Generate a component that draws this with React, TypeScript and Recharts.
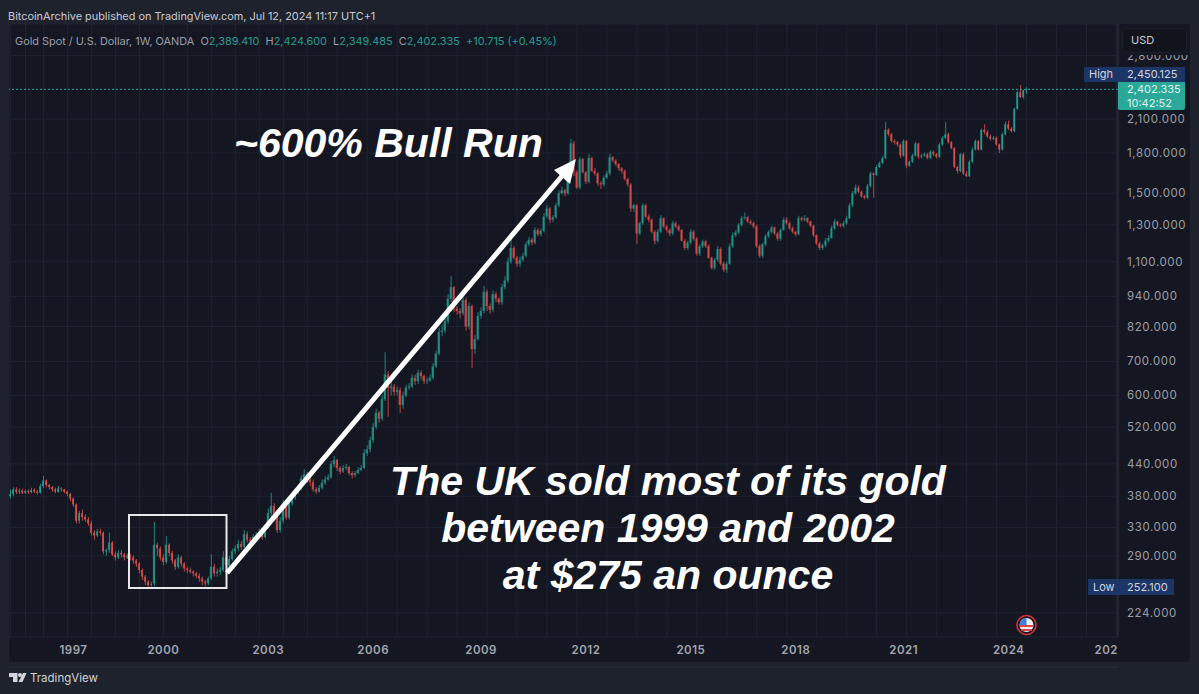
import { Bar, CartesianGrid, Cell, ComposedChart, ReferenceLine, XAxis, YAxis } from 'recharts';

// OHLC, thinned to about one candle per 3px
const opens = [
  380,384,392,388,390,386,389,387,391,388,
  386,398,408,400,396,392,388,394,392,388,
  384,376,366,340,352,346,342,336,322,318,
  324,322,296,298,308,292,288,294,292,288,
  290,288,284,280,272,264,258,254,256,305,
  300,288,282,305,294,284,276,288,280,274,
  272,270,268,265,262,258,256,262,276,268,
  270,272,288,278,286,296,300,306,302,320,
  312,310,316,318,322,316,330,352,364,350,
  326,340,368,345,368,378,388,395,412,420,
  410,405,392,388,395,404,410,414,440,448,
  432,425,432,434,422,418,422,428,432,462,
  470,490,520,555,540,590,660,620,625,610,
  615,575,600,622,625,650,640,665,655,640,
  642,650,685,725,800,805,840,930,980,890,
  880,870,925,820,900,740,775,860,880,960,
  900,885,950,930,915,980,1010,1100,1170,1120,
  1090,1110,1130,1190,1215,1200,1270,1245,1265,1350,
  1400,1330,1345,1420,1500,1520,1500,1620,1880,1650,
  1540,1750,1650,1580,1760,1660,1640,1570,1560,1610,
  1640,1765,1740,1710,1680,1660,1600,1560,1400,1420,
  1250,1310,1420,1350,1330,1260,1210,1260,1340,1290,
  1270,1250,1310,1290,1270,1210,1170,1200,1260,1220,
  1140,1180,1205,1180,1120,1070,1110,1165,1090,1060,
  1090,1180,1240,1255,1300,1340,1345,1320,1310,1290,
  1180,1130,1190,1235,1260,1285,1250,1220,1270,1330,
  1310,1280,1260,1245,1340,1330,1340,1320,1295,1240,
  1195,1170,1185,1210,1225,1280,1320,1300,1295,1310,
  1340,1420,1500,1540,1510,1480,1470,1550,1640,1630,
  1690,1720,1760,2000,1960,1900,1890,1870,1780,1900,
  1700,1730,1780,1880,1770,1780,1790,1760,1810,1790,
  1770,1870,1930,1960,1890,1840,1690,1660,1790,1640,
  1620,1730,1830,1900,1830,2000,1980,1940,1920,1930,
  1870,1830,1960,2050,2010,1990,2200,2370,2320,2389.41,
];
const highs = [
  392,396,396,394,393,392,392,395,394,391,
  402,417,410,402,398,395,398,396,393,390,
  386,378,368,356,358,350,346,340,326,328,
  328,324,300,322,310,296,298,298,294,293,
  293,291,286,282,274,266,260,258,338,308,
  303,292,317,307,297,286,292,290,282,276,
  275,272,270,268,264,260,264,292,280,274,
  276,296,290,290,300,304,312,310,326,324,
  316,320,323,328,324,334,360,386,368,354,
  346,374,372,374,384,394,400,418,430,424,
  416,410,396,400,410,416,420,446,456,450,
  436,438,440,436,426,426,434,438,470,478,
  498,530,565,560,600,730,670,640,632,625,
  622,610,630,635,660,660,675,672,660,650,
  660,695,735,815,825,860,950,1030,985,900,
  890,940,935,915,905,790,875,895,985,970,
  910,965,960,935,995,1030,1120,1226,1180,1130,
  1125,1145,1205,1230,1225,1285,1280,1280,1370,1420,
  1410,1360,1435,1520,1545,1530,1640,1920,1900,1665,
  1770,1760,1660,1790,1770,1680,1650,1585,1625,1660,
  1795,1775,1750,1720,1690,1670,1610,1570,1430,1430,
  1320,1435,1430,1365,1340,1270,1275,1360,1345,1300,
  1280,1325,1320,1300,1275,1220,1210,1275,1270,1230,
  1190,1215,1215,1190,1125,1120,1180,1175,1100,1100,
  1195,1255,1270,1310,1355,1375,1355,1330,1320,1300,
  1190,1200,1245,1270,1295,1290,1260,1280,1345,1345,
  1320,1290,1265,1355,1350,1360,1345,1325,1300,1245,
  1205,1195,1225,1240,1295,1335,1325,1310,1325,1355,
  1435,1515,1560,1555,1520,1490,1565,1655,1650,1705,
  1735,1775,2075,2015,1970,1915,1900,1880,1915,1910,
  1740,1795,1895,1885,1795,1805,1800,1825,1820,1800,
  1885,1945,2070,1975,1900,1850,1700,1800,1805,1660,
  1745,1845,1915,1910,2010,2050,1995,1960,1945,1940,
  1880,1975,2075,2085,2025,2210,2390,2450.125,2400,2424.6,
];
const lows = [
  376,380,384,384,384,384,384,385,385,383,
  384,394,396,392,388,385,386,388,385,380,
  372,362,336,336,340,338,332,318,312,316,
  318,292,290,294,290,284,286,288,284,286,
  284,280,276,268,260,254,252.1,252.5,252.6,290,
  284,278,280,290,280,272,274,276,270,268,
  268,264,262,258,254,252.6,254,260,264,264,
  266,270,274,276,284,292,296,298,300,308,
  306,308,312,314,312,314,328,346,346,322,
  322,336,342,342,364,374,384,390,406,404,
  398,388,384,386,392,400,408,412,434,426,
  420,422,428,418,412,414,420,426,430,456,
  464,484,514,530,535,585,545,600,600,600,
  555,565,595,615,620,630,632,645,632,632,
  638,645,680,720,785,795,830,915,875,865,
  850,862,805,810,680,725,770,850,870,880,
  870,875,915,905,905,970,1000,1090,1110,1075,
  1075,1100,1120,1180,1185,1190,1235,1235,1255,1340,
  1310,1315,1335,1410,1490,1480,1490,1610,1620,1530,
  1525,1640,1565,1570,1650,1625,1550,1530,1545,1600,
  1625,1725,1695,1660,1640,1590,1545,1380,1380,1190,
  1240,1300,1340,1315,1250,1190,1200,1250,1280,1255,
  1235,1240,1280,1260,1205,1160,1160,1190,1210,1130,
  1130,1170,1170,1115,1060,1060,1100,1080,1050,1045,
  1085,1170,1230,1245,1290,1330,1310,1300,1280,1170,
  1120,1120,1180,1225,1250,1240,1210,1210,1265,1300,
  1270,1250,1235,1240,1320,1320,1310,1285,1230,1185,
  1160,1160,1175,1200,1220,1270,1290,1285,1285,1300,
  1335,1410,1490,1500,1470,1460,1460,1540,1470,1620,
  1680,1710,1750,1940,1885,1870,1850,1760,1770,1680,
  1690,1720,1770,1750,1755,1770,1750,1750,1775,1755,
  1760,1860,1920,1880,1830,1680,1640,1650,1630,1615,
  1615,1720,1820,1820,1820,1960,1930,1905,1910,1860,
  1800,1820,1950,1995,1975,1980,2190,2310,2300,2349.485,
];
const closes = [
  384,392,388,390,386,389,387,391,388,386,
  398,408,400,396,392,388,394,392,388,384,
  376,366,340,352,346,342,336,322,318,324,
  322,296,298,308,292,288,294,292,288,290,
  288,284,280,272,264,258,254,255,305,300,
  288,282,305,294,284,276,288,280,274,272,
  270,268,265,262,258,256,262,276,268,270,
  272,288,278,286,296,300,306,302,320,312,
  310,316,318,322,316,330,352,364,350,326,
  340,368,345,368,378,388,395,412,420,410,
  405,392,388,395,404,410,414,440,448,432,
  425,432,434,422,418,422,428,432,462,470,
  490,520,555,540,590,660,620,625,610,615,
  575,600,622,625,650,640,665,655,640,642,
  650,685,725,800,805,840,930,980,890,880,
  870,925,820,900,740,775,860,880,960,900,
  885,950,930,915,980,1010,1100,1170,1120,1090,
  1110,1130,1190,1215,1200,1270,1245,1265,1350,1400,
  1330,1345,1420,1500,1520,1500,1620,1880,1650,1540,
  1750,1650,1580,1760,1660,1640,1570,1560,1610,1640,
  1765,1740,1710,1680,1660,1600,1560,1400,1420,1250,
  1310,1420,1350,1330,1260,1210,1260,1340,1290,1270,
  1250,1310,1290,1270,1210,1170,1200,1260,1220,1140,
  1180,1205,1180,1120,1070,1110,1165,1090,1060,1090,
  1180,1240,1255,1300,1340,1345,1320,1310,1290,1180,
  1130,1190,1235,1260,1285,1250,1220,1270,1330,1310,
  1280,1260,1245,1340,1330,1340,1320,1295,1240,1195,
  1170,1185,1210,1225,1280,1320,1300,1295,1310,1340,
  1420,1500,1540,1510,1480,1470,1550,1640,1630,1690,
  1720,1760,2000,1960,1900,1890,1870,1780,1900,1700,
  1730,1780,1880,1770,1780,1790,1760,1810,1790,1770,
  1870,1930,1960,1890,1840,1690,1660,1790,1640,1620,
  1730,1830,1900,1830,2000,1980,1940,1920,1930,1870,
  1830,1960,2050,2010,1990,2200,2370,2320,2390,2402.335,
];

const priceTicks = [2800, 2100, 1800, 1500, 1300, 1100, 940, 820, 700, 600, 520, 440, 380, 330, 290, 224];
const yearSlots = [21, 51, 86, 121, 157, 192, 227, 262, 298, 333, 368];
const yearLabels = ['1997', '2000', '2003', '2006', '2009', '2012', '2015', '2018', '2021', '2024', '202'];
const lastPrice = 2402.335;

const UP = '#26a69a';
const DOWN = '#ef5350';
const GRID = '#1f2330';
const PANEL = '#141722';
const SANS = 'Inter, "Noto Sans", sans-serif';
const SLOTS = 370; // right side of the time axis stays empty

const rows = Array.from({ length: SLOTS }, (_, i) =>
  i < closes.length
    ? { slot: i, wick: [lows[i], highs[i]], body: [opens[i], closes[i]] }
    : { slot: i, wick: null, body: null }
);

const candleFill = (i: number) => (closes[i] >= opens[i] ? UP : DOWN);

function YearTick({ x, payload }: any) {
  const label = yearLabels[yearSlots.indexOf(payload.value)];
  const clipped = label === '202';
  return (
    <text
      x={clipped ? 1118 : x}
      y={654}
      textAnchor={clipped ? 'end' : 'middle'}
      fill="#a3a6af"
      fontFamily={SANS}
      fontSize={11.5}
      fontWeight={600}
      letterSpacing={0.5}
    >
      {label}
    </text>
  );
}

function PriceTick({ y, payload }: any) {
  return (
    <text x={1127} y={y + 4} fill="#9b9ea8" fontFamily={SANS} fontSize={11.5} letterSpacing={0.6}>
      {payload.value.toLocaleString('en-US', { minimumFractionDigits: 3 })}
    </text>
  );
}

function Badge({ left, top, width, height, bg, children }: any) {
  return (
    <div
      style={{
        position: 'absolute',
        left,
        top,
        width,
        height,
        background: bg,
        color: '#d1d4dc',
        fontFamily: SANS,
        fontSize: 11,
        lineHeight: `${height}px`,
      }}
    >
      {children}
    </div>
  );
}

const bigText = {
  position: 'absolute',
  color: '#fff',
  fontFamily: '"Liberation Sans", Arial, sans-serif',
  fontWeight: 700,
  fontStyle: 'italic',
  whiteSpace: 'nowrap',
} as const;

export default function App() {
  return (
    <div style={{ position: 'absolute', left: 0, top: 0, width: 1199, height: 694, background: '#1e222d', overflow: 'hidden' }}>
      <div style={{ position: 'absolute', left: 8, top: 9, color: '#c8cad2', fontFamily: SANS, fontSize: 10.9, whiteSpace: 'nowrap' }}>
        BitcoinArchive published on TradingView.com, Jul 12, 2024 11:17 UTC+1
      </div>
      <div style={{ position: 'absolute', left: 9, top: 24, width: 1181, height: 638, background: PANEL }} />

      <ComposedChart
        width={1199}
        height={694}
        data={rows}
        margin={{ top: 24, right: 9, bottom: 38, left: 9 }}
        style={{ position: 'absolute', left: 0, top: 0 }}
      >
        <CartesianGrid stroke={GRID} strokeWidth={1} />
        <XAxis
          xAxisId="wicks"
          dataKey="slot"
          type="category"
          ticks={yearSlots}
          interval={0}
          height={19}
          tick={<YearTick />}
          tickLine={false}
          axisLine={{ stroke: '#2a2e39' }}
        />
        <XAxis xAxisId="bodies" dataKey="slot" type="category" hide />
        <YAxis
          orientation="right"
          scale="log"
          domain={[200.8, 3230]}
          allowDataOverflow
          ticks={priceTicks}
          interval={0}
          width={72}
          tick={<PriceTick />}
          tickLine={false}
          axisLine={{ stroke: '#2a2e39' }}
        />
        <ReferenceLine xAxisId="wicks" y={lastPrice} stroke={UP} strokeDasharray="2 2" />
        <Bar xAxisId="wicks" dataKey="wick" barSize={1} fillOpacity={0.75} isAnimationActive={false}>
          {closes.map((_, i) => (
            <Cell key={i} fill={candleFill(i)} />
          ))}
        </Bar>
        <Bar xAxisId="bodies" dataKey="body" barSize={2} fillOpacity={0.75} isAnimationActive={false}>
          {closes.map((_, i) => (
            <Cell key={i} fill={candleFill(i)} />
          ))}
        </Bar>
      </ComposedChart>

      <div style={{ position: 'absolute', left: 15, top: 34, fontFamily: SANS, fontSize: 10.9, color: '#9a9da8', whiteSpace: 'nowrap' }}>
        Gold Spot / U.S. Dollar, 1W, OANDA&nbsp;&nbsp;O<span style={{ color: '#2a9d8f' }}>2,389.410</span>&nbsp;&nbsp;H
        <span style={{ color: '#2a9d8f' }}>2,424.600</span>&nbsp;&nbsp;L<span style={{ color: '#2a9d8f' }}>2,349.485</span>&nbsp;&nbsp;C
        <span style={{ color: '#2a9d8f' }}>2,402.335</span>&nbsp;&nbsp;<span style={{ color: '#2a9d8f' }}>+10.715 (+0.45%)</span>
      </div>

      {/* scale button hides the top half of the first price label */}
      <div style={{ position: 'absolute', left: 1119, top: 25, width: 70, height: 30, background: PANEL }} />
      <div style={{ position: 'absolute', left: 1122, top: 28, width: 63, height: 23, borderRadius: 5, background: '#12141c', border: '1px solid #1c1f2a', color: '#c8cad2', fontFamily: SANS, fontSize: 11, lineHeight: '23px', textIndent: 8 }}>
        USD
      </div>

      <Badge left={1084} top={67} width={101} height={15} bg="#1c3567">
        <span style={{ position: 'absolute', left: 5 }}>High</span>
        <span style={{ position: 'absolute', left: 43 }}>2,450.125</span>
      </Badge>
      <div style={{ position: 'absolute', left: 1118, top: 82, width: 67, height: 28, borderRadius: '0 0 2px 2px', background: '#2aa898', color: '#dff3f0', fontFamily: SANS, fontSize: 11, lineHeight: '14px', textIndent: 9 }}>
        <div>2,402.335</div>
        <div>10:42:52</div>
      </div>
      <Badge left={1088} top={579} width={86} height={16} bg="#1c3567">
        <span style={{ position: 'absolute', left: 5 }}>Low</span>
        <span style={{ position: 'absolute', left: 39 }}>252.100</span>
      </Badge>

      <svg width={1199} height={694} style={{ position: 'absolute', left: 0, top: 0 }}>
        {/* annotations */}
        <rect x={129} y={515} width={97.5} height={73} fill="none" stroke="#e8e8ea" strokeWidth={2} />
        <line x1={227} y1={573} x2={562} y2={176} stroke="#fff" strokeWidth={5} />
        <polygon points="576,159 570,184 554,170" fill="#fff" />

        {/* US event marker */}
        <circle cx={1026.5} cy={625} r={9.5} fill={PANEL} stroke="#d6303a" strokeWidth={1.6} />
        <circle cx={1026.5} cy={625} r={7} fill="#eceef2" />
        <rect x={1020} y={625} width={13} height={2} fill="#e0424a" />
        <rect x={1021} y={629} width={11} height={2} fill="#e0424a" />
        <path d="M1026.5 618 A7 7 0 0 0 1019.6 625 L1026.5 625 Z" fill="#3f7fe0" />

        {/* TradingView mark */}
        <polygon points="9,673 17.5,673 17.5,682 13,682 13,677 9,677" fill="#d1d4dc" />
        <circle cx={20} cy={675} r={2} fill="#d1d4dc" />
        <polygon points="23,673 26.5,673 22.5,682 18.5,682" fill="#d1d4dc" />
      </svg>
      <div style={{ position: 'absolute', left: 30, top: 671, color: '#cfd2da', fontFamily: SANS, fontSize: 11.5, whiteSpace: 'nowrap' }}>
        TradingView
      </div>

      <div style={{ ...bigText, left: 234, top: 120, fontSize: 41, lineHeight: '46px' }}>~600% Bull Run</div>
      <div style={{ ...bigText, left: 268, width: 800, top: 458, textAlign: 'center', fontSize: 41, lineHeight: '47px' }}>
        The UK sold most of its gold
        <br />
        between 1999 and 2002
        <br />
        at $275 an ounce
      </div>
    </div>
  );
}
